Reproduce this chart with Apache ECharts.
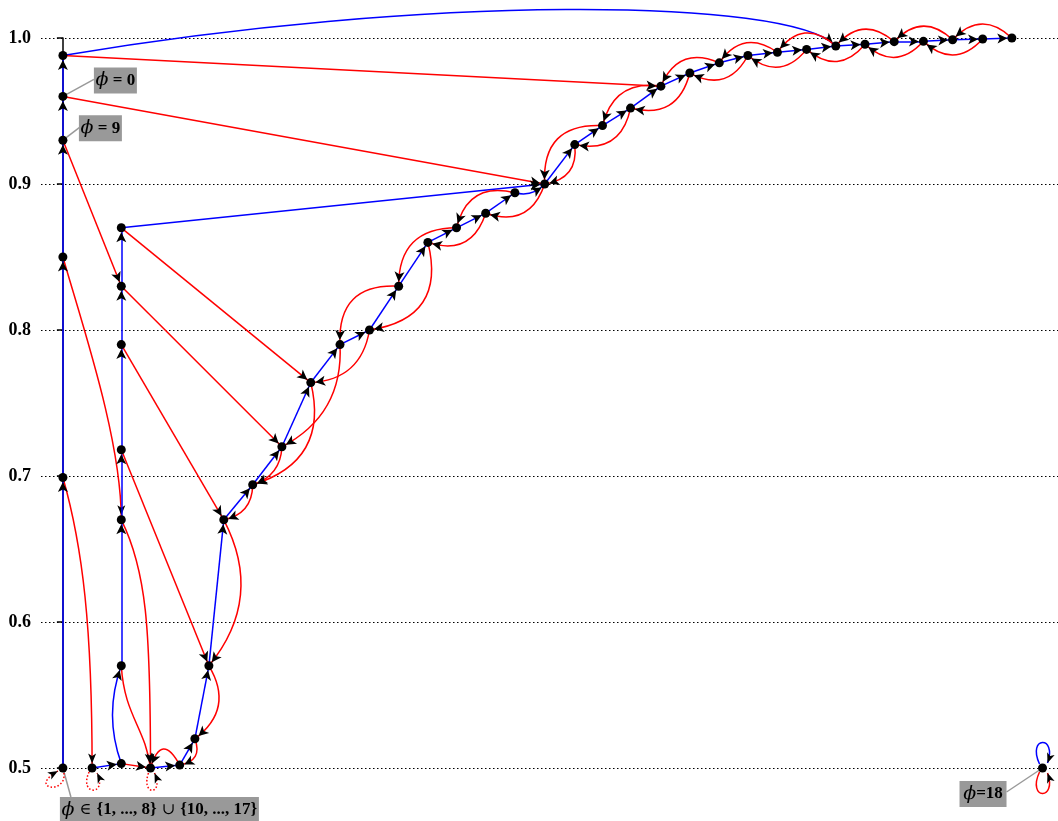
<!DOCTYPE html>
<html>
<head>
<meta charset="utf-8">
<title>State transition diagram</title>
<script src="https://cdn.jsdelivr.net/npm/echarts@6.0.0/dist/echarts.min.js"></script>
<style>
html, body { margin: 0; padding: 0; background: #ffffff; }
#chart { width: 1058px; height: 821px; }
</style>
</head>
<body>
<div id="chart"></div>
<script>
// ---- states: horizontal slot and value on the vertical axis ----------------
const nodeIds = [
  'a0', 'a1', 'a2', 'a3', 'a4', 'a5',
  'b1', 'b2', 'b3', 'b4',
  'd0', 'd1', 'd2', 'd3', 'd4', 'd5',
  'c0', 'c1', 'c2', 'c3', 'c4', 'c5', 'c6', 'c7', 'c8', 'c9',
  'c10', 'c11', 'c12', 'c13', 'c14', 'c15', 'c16', 'c17', 'c18', 'c19',
  'c20', 'c21', 'c22', 'c23', 'c24', 'c25', 'c26', 'c27', 'c28', 'c29',
  'z'
];
const nodeX = [
  0, 0, 0, 0, 0, 0,
  1, 2, 3, 4,
  2, 2, 2, 2, 2, 2,
  4.52, 5, 5.51, 6.5, 7.5, 8.49, 9.49, 10.5, 11.5, 12.5,
  13.48, 14.48, 15.48, 16.5, 17.53, 18.48, 19.44, 20.48, 21.47, 22.48,
  23.46, 24.47, 25.47, 26.47, 27.47, 28.47, 29.47, 30.47, 31.5, 32.5,
  33.55
];
const nodeY = [
  0.5, 0.699, 0.85, 0.93, 0.96, 0.988,
  0.5, 0.503, 0.5, 0.502,
  0.57, 0.67, 0.718, 0.79, 0.83, 0.87,
  0.52, 0.57, 0.67, 0.694, 0.72, 0.764, 0.79, 0.80, 0.83, 0.86,
  0.87, 0.88, 0.894, 0.90, 0.927, 0.94, 0.952, 0.967, 0.976, 0.983,
  0.988, 0.9902, 0.9922, 0.9945, 0.9957, 0.9975, 0.9977, 0.9988, 0.9993, 1.0,
  0.5
];

// ---- transitions ('from>to') ---------------------------------------------
const blueEdges = [
  'a0>a1', 'a1>a2', 'a2>a3', 'a3>a4', 'a4>a5', 'a5>c23',
  'b1>b2', 'b2>d0', 'd0>d1', 'd1>d2', 'd2>d3', 'd3>d4', 'd4>d5', 'd5>c13',
  'b3>b4', 'b4>c0', 'c0>c1', 'c1>c2', 'c2>c3', 'c3>c4', 'c4>c5', 'c5>c6',
  'c6>c7', 'c7>c8', 'c8>c9', 'c9>c10', 'c10>c11', 'c11>c12', 'c12>c13',
  'c13>c14', 'c14>c15', 'c15>c16', 'c16>c17', 'c17>c18', 'c18>c19',
  'c19>c20', 'c20>c21', 'c21>c22', 'c22>c23', 'c23>c24', 'c24>c25',
  'c25>c26', 'c26>c27', 'c27>c28', 'c28>c29'
];
const redEdges = [
  'a1>b1', 'a2>d1', 'a3>d4', 'a4>c13', 'a5>c17',
  'd0>b3', 'd1>b3', 'd2>c1', 'd3>c2', 'd4>c4', 'd5>c5',
  'b2>b3', 'b4>b3', 'c0>b4', 'c1>c0', 'c2>c1', 'c3>c2', 'c4>c3',
  'c5>c3', 'c6>c4', 'c7>c5', 'c8>c6', 'c9>c7', 'c10>c8', 'c11>c9',
  'c12>c10', 'c13>c11', 'c14>c13', 'c15>c13', 'c16>c14', 'c17>c15',
  'c18>c16', 'c19>c17', 'c20>c18', 'c21>c19', 'c22>c20', 'c23>c21',
  'c24>c22', 'c25>c23', 'c26>c24', 'c27>c25', 'c28>c26', 'c29>c27'
];
// self transitions
const blueLoops = ['z'];
const redLoops = ['a0', 'b1', 'b3', 'z'];
const dottedLoops = ['a0', 'b1', 'b3'];

// ---- annotations ------------------------------------------------------------
const labelNodes = ['a4', 'a3', 'a0', 'z'];
const labelTexts = [
  '{p|ϕ}{b| = 0}',
  '{p|ϕ}{b| = 9}',
  '{p|ϕ}{s| ∈ }{1, ..., 8}{s| ∪ }{10, ..., 17}',
  '{p|ϕ}{b|=18}'
];

// ---- axis -------------------------------------------------------------------
const yMin = 0.5;
const yMax = 1.0;
const yStep = 0.1;

// ---- drawing styles ---------------------------------------------------------
const BLUE = '#0000ff';
const RED = '#ff0000';
// edge bend (quadratic curveness); straight when absent
const bend = {
  'b2>d0': 0.18, 'c12>c13': -0.3,
  'b4>b3': -1.2, 'c0>b4': 0.6, 'c1>c0': 0.45, 'c2>c1': 0.33,
  'c3>c2': 0.4, 'c4>c3': 0.35,
  'c5>c3': 0.47, 'c6>c4': 0.32, 'c7>c5': 0.4, 'c8>c6': -0.55,
  'c9>c7': 0.55, 'c10>c8': -0.5, 'c11>c9': 0.5, 'c12>c10': -0.5,
  'c13>c11': 0.5, 'c14>c13': 0.48, 'c15>c13': -0.55, 'c16>c14': 0.5,
  'c17>c15': -0.45, 'c18>c16': 0.5, 'c19>c17': -0.5, 'c20>c18': 0.5,
  'c21>c19': -0.5, 'c22>c20': 0.5, 'c23>c21': -0.55, 'c24>c22': 0.5,
  'c25>c23': -0.5, 'c26>c24': 0.5, 'c27>c25': -0.5, 'c28>c26': 0.5,
  'c29>c27': -0.5
};
// edges drawn as cubic curves: control offsets in pixels,
// first relative to the source state, second relative to the target state
const cubicBend = {
  'a5>c23': [[357, -61], [-46, -49]],
  'a1>b1': [[20, 70], [0, -140]],
  'a2>d1': [[20, 70], [0, -80]],
  'd1>b3': [[25, 50], [0, -140]],
  'd0>b3': [[3, 50], [-5, -40]]
};
// self-loop cubic shapes in pixels relative to the state: start, cp1, cp2, end
const loopShape = {
  'blue:z': [[-3, -4], [-16, -32], [15, -33], [5, -5]],
  'red:z': [[-3, 4], [-16, 32], [15, 33], [5, 5]],
  'red:a0': [[1, 5], [4, 27], [-36, 21], [-5, 3]],
  'red:b1': [[-3, 4], [-14, 28], [16, 28], [5, 5]],
  'red:b3': [[-2, 5], [-10, 28], [14, 28], [4, 5]]
};
// annotation box [dx, dy, width, height] and leader end [dx, dy] in pixels
const labelLayout = {
  a4: { box: [31, -29, 43, 26], lead: [31, -17] },
  a3: { box: [16, -25, 43, 26], lead: [17, -13] },
  a0: { box: [-3, 29, 199, 26], lead: [8, 29] },
  z: { box: [-83, 13, 47, 26], lead: [-36, 24] }
};
const ARROW = 'path://M0,0L4,10L0,7.5L-4,10Z';
const SERIF = '"Liberation Serif", "Times New Roman", serif';
const PHI_FONT = '"DejaVu Serif", serif';
const NODE_R = 4.5;

// ---- build ------------------------------------------------------------------
const idx = {};
nodeIds.forEach(function (id, i) { idx[id] = i; });

function nodeData() {
  return nodeIds.map(function (id, i) {
    return { name: id, value: [nodeX[i], nodeY[i]] };
  });
}
function makeLinks(list, color) {
  return list.filter(function (e) { return !cubicBend[e]; }).map(function (e) {
    const parts = e.split('>');
    return {
      source: parts[0],
      target: parts[1],
      lineStyle: { color: color, curveness: bend[e] || 0 }
    };
  });
}
const colourLinks = makeLinks(blueEdges, BLUE).concat(makeLinks(redEdges, RED));
const arrowLinks = makeLinks(blueEdges, '#000').concat(makeLinks(redEdges, '#000'));

const cubicItems = [];
function addCubic(list, color) {
  list.forEach(function (e) {
    if (!cubicBend[e]) return;
    const parts = e.split('>');
    const s = idx[parts[0]], t = idx[parts[1]];
    cubicItems.push({ value: [nodeX[s], nodeY[s], nodeX[t], nodeY[t]], color: color, ctrl: cubicBend[e] });
  });
}
addCubic(blueEdges, BLUE);
addCubic(redEdges, RED);

const loopItems = [];
blueLoops.forEach(function (id) {
  loopItems.push({ value: [nodeX[idx[id]], nodeY[idx[id]]], color: BLUE, dotted: false, shape: loopShape['blue:' + id] });
});
redLoops.forEach(function (id) {
  loopItems.push({ value: [nodeX[idx[id]], nodeY[idx[id]]], color: RED, dotted: dottedLoops.indexOf(id) >= 0, shape: loopShape['red:' + id] });
});

const labelItems = labelNodes.map(function (id, i) {
  return { value: [nodeX[idx[id]], nodeY[idx[id]]], text: labelTexts[i], layout: labelLayout[id] };
});

function arrowHead(tip, from, len, half) {
  const a = Math.atan2(tip[1] - from[1], tip[0] - from[0]);
  const dx = Math.cos(a), dy = Math.sin(a);
  const nx = -dy, ny = dx;
  return [
    [tip[0], tip[1]],
    [tip[0] - len * dx + half * nx, tip[1] - len * dy + half * ny],
    [tip[0] - 0.75 * len * dx, tip[1] - 0.75 * len * dy],
    [tip[0] - len * dx - half * nx, tip[1] - len * dy - half * ny]
  ];
}

const chart = echarts.init(document.getElementById('chart'), null, { renderer: 'canvas' });

const option = {
  backgroundColor: '#ffffff',
  animation: false,
  grid: { left: 41, right: 0, top: 38, bottom: 53, containLabel: false },
  xAxis: {
    type: 'value', min: -0.75, max: 34.08, show: false
  },
  yAxis: {
    type: 'value', min: yMin, max: yMax, interval: yStep,
    axisLine: { show: true, lineStyle: { color: '#000', width: 1.5 } },
    axisTick: { show: true, length: 6, lineStyle: { color: '#000', width: 1.5 } },
    axisLabel: {
      margin: 10, color: '#000', fontFamily: SERIF, fontWeight: 'bold', fontSize: 18,
      formatter: function (v) { return v.toFixed(1); }
    },
    splitLine: { show: true, lineStyle: { color: '#000', width: 1, type: [1.5, 2.5] } }
  },
  series: [
    {
      // annotation boxes with leader lines
      type: 'custom',
      coordinateSystem: 'cartesian2d',
      silent: true,
      z: 1,
      data: labelItems,
      renderItem: function (params, api) {
        const item = labelItems[params.dataIndex];
        const p = api.coord([api.value(0), api.value(1)]);
        const b = item.layout.box;
        const l = item.layout.lead;
        return {
          type: 'group',
          children: [
            {
              type: 'line',
              shape: { x1: p[0], y1: p[1], x2: p[0] + l[0], y2: p[1] + l[1] },
              style: { stroke: '#999999', lineWidth: 1.5 }
            },
            {
              type: 'rect',
              shape: { x: p[0] + b[0], y: p[1] + b[1], width: b[2], height: b[3] },
              style: { fill: '#999999' }
            },
            {
              type: 'text',
              x: p[0] + b[0] + b[2] / 2,
              y: p[1] + b[1] + b[3] / 2,
              style: {
                text: item.text,
                align: 'center',
                verticalAlign: 'middle',
                fill: '#000',
                fontFamily: SERIF,
                fontWeight: 'bold',
                fontSize: 17,
                rich: {
                  p: { fontFamily: PHI_FONT, fontStyle: 'italic', fontWeight: 'normal', fontSize: 19, fill: '#000' },
                  b: { fontFamily: SERIF, fontWeight: 'bold', fontSize: 17, fill: '#000' },
                  s: { fontFamily: PHI_FONT, fontWeight: 'normal', fontSize: 16, fill: '#000' }
                }
              }
            }
          ]
        };
      }
    },
    {
      // long curved transitions (cubic)
      type: 'custom',
      coordinateSystem: 'cartesian2d',
      silent: true,
      z: 2,
      data: cubicItems,
      renderItem: function (params, api) {
        const item = cubicItems[params.dataIndex];
        const p0 = api.coord([api.value(0), api.value(1)]);
        const p3 = api.coord([api.value(2), api.value(3)]);
        const c1 = [p0[0] + item.ctrl[0][0], p0[1] + item.ctrl[0][1]];
        const c2 = [p3[0] + item.ctrl[1][0], p3[1] + item.ctrl[1][1]];
        const d = Math.hypot(p3[0] - c2[0], p3[1] - c2[1]);
        const tip = [p3[0] - NODE_R * (p3[0] - c2[0]) / d, p3[1] - NODE_R * (p3[1] - c2[1]) / d];
        return {
          type: 'group',
          children: [
            {
              type: 'bezierCurve',
              shape: { x1: p0[0], y1: p0[1], cpx1: c1[0], cpy1: c1[1], cpx2: c2[0], cpy2: c2[1], x2: p3[0], y2: p3[1] },
              style: { stroke: item.color, lineWidth: 1.5, fill: null }
            },
            {
              type: 'polygon',
              z2: 10,
              shape: { points: arrowHead(tip, c2, 10, 4) },
              style: { fill: '#000' }
            }
          ]
        };
      }
    },
    {
      // coloured transitions and the states
      type: 'graph',
      coordinateSystem: 'cartesian2d',
      layout: 'none',
      silent: true,
      z: 3,
      symbol: 'circle',
      symbolSize: 9,
      itemStyle: { color: '#000' },
      label: { show: false },
      edgeSymbol: ['none', 'none'],
      lineStyle: { width: 1.5, opacity: 1 },
      data: nodeData(),
      links: colourLinks
    },
    {
      // self transitions
      type: 'custom',
      coordinateSystem: 'cartesian2d',
      silent: true,
      z: 4,
      data: loopItems,
      renderItem: function (params, api) {
        const item = loopItems[params.dataIndex];
        const p = api.coord([api.value(0), api.value(1)]);
        const s = item.shape;
        const pt = function (o) { return [p[0] + o[0], p[1] + o[1]]; };
        const a = pt(s[0]), c1 = pt(s[1]), c2 = pt(s[2]), e = pt(s[3]);
        return {
          type: 'group',
          children: [
            {
              type: 'bezierCurve',
              shape: { x1: a[0], y1: a[1], cpx1: c1[0], cpy1: c1[1], cpx2: c2[0], cpy2: c2[1], x2: e[0], y2: e[1] },
              style: { stroke: item.color, lineWidth: 1.5, fill: null, lineDash: item.dotted ? [1.5, 2] : null }
            },
            {
              type: 'polygon',
              shape: { points: arrowHead(e, c2, 10, 4) },
              style: { fill: '#000' }
            }
          ]
        };
      }
    },
    {
      // arrow heads, drawn at the rim of each target state
      type: 'graph',
      coordinateSystem: 'cartesian2d',
      layout: 'none',
      silent: true,
      z: 5,
      symbol: 'circle',
      symbolSize: 19,
      itemStyle: { color: '#000', opacity: 0 },
      label: { show: false },
      edgeSymbol: ['none', ARROW],
      edgeSymbolSize: 10,
      lineStyle: { width: 0, color: '#000', opacity: 1 },
      data: nodeData(),
      links: arrowLinks
    }
  ]
};

chart.setOption(option);
</script>
</body>
</html>
